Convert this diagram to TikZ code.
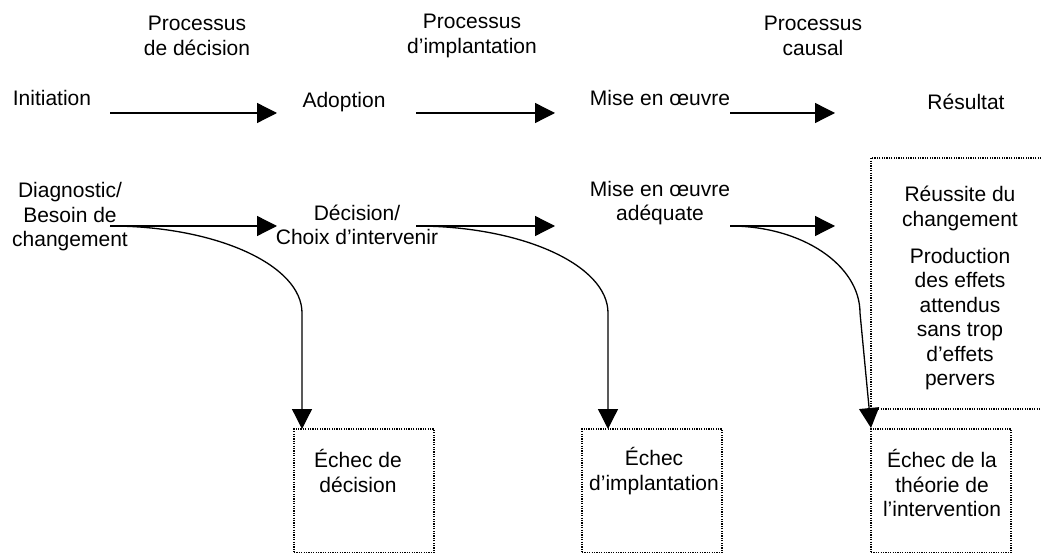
\documentclass[tikz,border=0pt]{standalone}
\usepackage{fontspec}
\setmainfont{Liberation Sans}
\usetikzlibrary{arrows.meta}
\tikzset{
  lbl/.style={align=center, inner sep=0pt, font=\fontsize{21}{24.5}\selectfont},
  conn/.style={line width=1.3pt, -{Triangle[length=20pt,width=20pt]}},
  dotbox/.style={draw, line width=1.2pt, dash pattern=on 1.2pt off 1.2pt, inner sep=0pt},
}
\begin{document}
\begin{tikzpicture}[x=1pt,y=-1pt]
\clip (0,0) rectangle (1041,553);
\fill[white] (0,0) rectangle (1041,553);

% headers
\node[lbl] (p1) at (197,36) {Processus\\de décision};
\node[lbl] (p2) at (472,36) {Processus\\d’implantation};
\node[lbl] (p3) at (813,36) {Processus\\causal};

% row 1
\node[lbl] (init) at (52,98) {Initiation};
\node[lbl] (adopt) at (344,102) {Adoption};
\node[lbl] (mise) at (660,98) {Mise en œuvre};
\node[lbl] (res) at (966,102) {Résultat};

% row 2
\node[lbl] (diag) at (70,217) {Diagnostic/\\Besoin de\\changement};
\node[lbl] (dec) at (357,225) {Décision/\\Choix d’intervenir};
\node[lbl] (miseadq) at (660,203) {Mise en œuvre\\adéquate};

% boxes
\node[dotbox, minimum width=140pt, minimum height=123.5pt] (b1) at (364,490.75) {};
\node[dotbox, minimum width=140pt, minimum height=123.5pt] (b2) at (652,490.75) {};
\node[dotbox, minimum width=140pt, minimum height=123.5pt] (b3) at (941,490.75) {};
\node[dotbox, minimum width=220pt, minimum height=251pt] (b4) at (981,283.5) {};

\node[lbl] (e1) at (358,471) {Échec de\\décision};
\node[lbl] (e2) at (654,471) {Échec\\d’implantation};
\node[lbl] (e3) at (942,483) {Échec de la\\théorie de\\l’intervention};
\node[lbl] (r1) at (960,208.5) {Réussite du\\changement};
\node[lbl] (r2) at (960,319) {Production\\des effets\\attendus\\sans trop\\d’effets\\pervers};

% arrow ends
\coordinate (a1s) at (110,113); \coordinate (a1e) at (277,113);
\coordinate (a2s) at (416,113); \coordinate (a2e) at (555,113);
\coordinate (a3s) at (730,113); \coordinate (a3e) at (835,113);
\coordinate (c1s) at (110,226); \coordinate (c1e) at (277,226);
\coordinate (c2s) at (416,226); \coordinate (c2e) at (555,226);
\coordinate (c3s) at (730,226); \coordinate (c3e) at (835,226);
\coordinate (t1) at (302,429);
\coordinate (t2) at (608,429);
\coordinate (t3) at (871,428);

\draw[conn] (a1s) -- (a1e);
\draw[conn] (a2s) -- (a2e);
\draw[conn] (a3s) -- (a3e);
\draw[conn] (c1s) -- (c1e);
\draw[conn] (c2s) -- (c2e);
\draw[conn] (c3s) -- (c3e);

\draw[conn] (c1s) .. controls (216,226) and (302,265) .. (302,313) -- (t1);
\draw[conn] (c2s) .. controls (522,226) and (608,265) .. (608,313) -- (t2);
\draw[conn] (c3s) .. controls (802,226) and (860,265) .. (860,313) -- (t3);
\end{tikzpicture}
\end{document}
